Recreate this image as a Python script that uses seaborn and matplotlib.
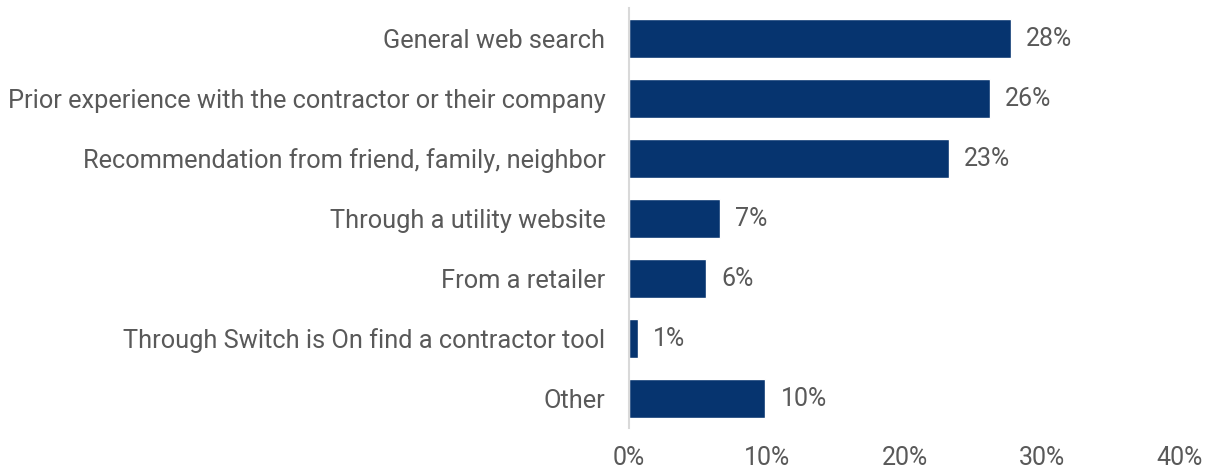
import matplotlib
matplotlib.use("Agg")
import matplotlib.pyplot as plt
import seaborn as sns
import pandas as pd

categories = [
    "General web search",
    "Prior experience with the contractor or their company",
    "Recommendation from friend, family, neighbor",
    "Through a utility website",
    "From a retailer",
    "Through Switch is On find a contractor tool",
    "Other",
]
shares = [27.7, 26.2, 23.2, 6.6, 5.6, 0.65, 9.9]
x_ticks = [0, 10, 20, 30, 40]
x_tick_labels = ["0%", "10%", "20%", "30%", "40%"]

bar_color = "#06346F"
text_color = "#595959"

df = pd.DataFrame({"source": categories, "share": shares})

sns.set_theme(style="white")
plt.rcParams["font.family"] = ["Roboto", "DejaVu Sans"]

fig = plt.figure(figsize=(12.17, 4.70), dpi=100)
ax = fig.add_axes([629 / 1217, 42 / 470, (1180 - 629) / 1217, 420 / 470])

sns.barplot(data=df, x="share", y="source", order=categories, color=bar_color,
            saturation=1, width=0.65, ax=ax)

for patch, v in zip(ax.patches, shares):
    y = patch.get_y() + patch.get_height() / 2
    ax.annotate(f"{v:.0f}%", xy=(patch.get_width(), y), xytext=(11, -1),
                textcoords="offset points", va="center", ha="left",
                fontsize=18, color=text_color)

ax.set_xlim(0, 40)
ax.set_ylim(len(categories) - 0.5, -0.5)
ax.set_xticks(x_ticks)
ax.set_xticklabels(x_tick_labels)
ax.set_xlabel("")
ax.set_ylabel("")
ax.tick_params(axis="x", length=0, pad=13, labelsize=18, labelcolor=text_color)
ax.tick_params(axis="y", length=0, pad=17, labelsize=18.3, labelcolor=text_color)

for side in ["top", "right", "bottom"]:
    ax.spines[side].set_visible(False)
ax.spines["left"].set_color("#D9D9D9")
ax.spines["left"].set_linewidth(1.5)

fig.savefig("out.png", dpi=100, facecolor="white")
